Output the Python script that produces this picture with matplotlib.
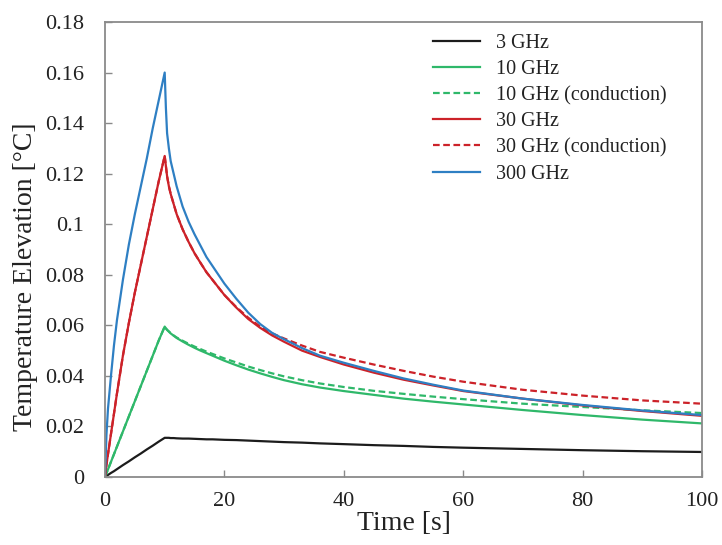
import matplotlib
matplotlib.use("Agg")
import matplotlib.pyplot as plt

plt.rcParams["font.family"] = ["Liberation Serif", "DejaVu Serif"]

# Time axis (s): 10 s exposure followed by cooling
time_s = [0, 0.25, 0.5, 1, 1.5, 2, 3, 4, 5, 6, 7, 8, 9, 10,
          10.2, 10.4, 10.7, 11, 11.5, 12, 13, 14, 15, 16, 17, 18, 19, 20,
          22, 24, 26, 28, 30, 33, 36, 40, 45, 50, 55, 60, 70, 80, 90, 100]

# Temperature elevation (degC)
t_3ghz = [0, 0.0004, 0.0008, 0.0016, 0.0023, 0.0031, 0.0047, 0.0062, 0.0078, 0.0093, 0.0109, 0.0124, 0.0140, 0.0155,
          0.0155, 0.0155, 0.0155, 0.0154, 0.0154, 0.0153, 0.0152, 0.0152, 0.0151, 0.0150, 0.0149, 0.0149, 0.0148, 0.0147,
          0.0146, 0.0144, 0.0142, 0.0140, 0.0138, 0.0136, 0.0133, 0.0130, 0.0126, 0.0123, 0.0119, 0.0116,
          0.0111, 0.0106, 0.0102, 0.0099]
t_10ghz = [0, 0.0015, 0.003, 0.006, 0.009, 0.012, 0.018, 0.024, 0.030, 0.036, 0.042, 0.048, 0.054, 0.0595,
           0.0588, 0.0582, 0.0575, 0.0568, 0.0559, 0.0550, 0.0536, 0.0523, 0.0511, 0.0500, 0.0490, 0.0480, 0.0470, 0.0460,
           0.0442, 0.0425, 0.0410, 0.0396, 0.0383, 0.0367, 0.0354, 0.0340, 0.0325, 0.0310, 0.0298, 0.0287,
           0.0265, 0.0245, 0.0227, 0.0212]
t_10ghz_cond = [0, 0.0015, 0.003, 0.006, 0.009, 0.012, 0.018, 0.024, 0.030, 0.036, 0.042, 0.048, 0.054, 0.0595,
                0.0588, 0.0582, 0.0576, 0.0569, 0.0560, 0.0552, 0.0539, 0.0527, 0.0516, 0.0506, 0.0496, 0.0487, 0.0478, 0.0469,
                0.0453, 0.0437, 0.0423, 0.0410, 0.0398, 0.0383, 0.0370, 0.0356, 0.0341, 0.0329, 0.0318, 0.0308,
                0.0290, 0.0277, 0.0264, 0.0253]
t_30ghz = [0, 0.005, 0.009, 0.017, 0.025, 0.033, 0.048, 0.061, 0.073, 0.084, 0.095, 0.106, 0.117, 0.127,
           0.123, 0.119, 0.115, 0.112, 0.108, 0.104, 0.098, 0.093, 0.0885, 0.0847, 0.081, 0.078, 0.075, 0.072,
           0.067, 0.0625, 0.059, 0.056, 0.0535, 0.050, 0.0475, 0.0445, 0.0413, 0.0385, 0.0362, 0.034,
           0.031, 0.0283, 0.0261, 0.0242]
t_30ghz_cond = [0, 0.005, 0.009, 0.017, 0.025, 0.033, 0.048, 0.061, 0.073, 0.084, 0.095, 0.106, 0.117, 0.127,
                0.123, 0.119, 0.115, 0.112, 0.108, 0.104, 0.098, 0.093, 0.0885, 0.0847, 0.081, 0.078, 0.075, 0.072,
                0.0672, 0.063, 0.0595, 0.0568, 0.0548, 0.052, 0.0495, 0.0472, 0.0445, 0.042, 0.0397, 0.0377,
                0.0345, 0.0322, 0.0303, 0.029]
t_300ghz = [0, 0.017, 0.027, 0.040, 0.052, 0.062, 0.078, 0.092, 0.104, 0.115, 0.126, 0.138, 0.149, 0.160,
            0.146, 0.136, 0.130, 0.125, 0.120, 0.115, 0.107, 0.101, 0.096, 0.0915, 0.087, 0.0835, 0.080, 0.0765,
            0.0705, 0.065, 0.0605, 0.057, 0.0545, 0.051, 0.048, 0.0452, 0.042, 0.039, 0.0365, 0.0342,
            0.031, 0.0285, 0.0263, 0.0245]

x_ticks = [0, 20, 40, 60, 80, 100]
y_ticks = [0, 0.02, 0.04, 0.06, 0.08, 0.1, 0.12, 0.14, 0.16, 0.18]
y_tick_labels = ["0", "0.02", "0.04", "0.06", "0.08", "0.1", "0.12", "0.14", "0.16", "0.18"]

BLACK = "#1c1c1c"
GREEN = "#2fb86a"
RED = "#cc2229"
BLUE = "#2e7fc3"
DASH = (0, (3, 1.6))

fig = plt.figure(figsize=(7.22, 5.45), dpi=100)
ax = fig.add_axes([105 / 722, 1 - 477 / 545, 597 / 722, 455 / 545])

lw = 1.6
ax.plot(time_s, t_3ghz, color=BLACK, lw=lw, label="3 GHz")
ax.plot(time_s, t_10ghz, color=GREEN, lw=lw, label="10 GHz")
ax.plot(time_s, t_10ghz_cond, color=GREEN, lw=lw, ls=DASH, label="10 GHz (conduction)")
ax.plot(time_s, t_30ghz, color=RED, lw=lw, label="30 GHz")
ax.plot(time_s, t_30ghz_cond, color=RED, lw=lw, ls=DASH, label="30 GHz (conduction)")
ax.plot(time_s, t_300ghz, color=BLUE, lw=lw, label="300 GHz")

ax.set_xlim(0, 100)
ax.set_ylim(0, 0.18)
ax.set_xticks(x_ticks)
ax.set_yticks(y_ticks)
ax.set_yticklabels(y_tick_labels)

for s in ax.spines.values():
    s.set_color("#8a8a8a")
    s.set_linewidth(1.3)
ax.tick_params(axis="both", direction="in", length=5, width=1.0, color="#8a8a8a",
               labelsize=16, labelcolor="#222222")
ax.tick_params(axis="y", pad=15)
ax.tick_params(axis="x", pad=11)

ax.set_xlabel("Time [s]", fontsize=20, color="#222222", labelpad=0)
ax.set_ylabel("Temperature Elevation [\u00b0C]", fontsize=20, color="#222222")
ax.yaxis.set_label_coords(-0.112, 0.44)

leg = ax.legend(loc="upper left", bbox_to_anchor=(433 / 722, 1 - 33.5 / 545),
                bbox_transform=fig.transFigure, frameon=False, fontsize=14.5,
                handlelength=2.35, handletextpad=0.8, labelspacing=0.35,
                borderpad=0, borderaxespad=0)
for t in leg.get_texts():
    t.set_color("#222222")

fig.savefig("out.png", dpi=100)
